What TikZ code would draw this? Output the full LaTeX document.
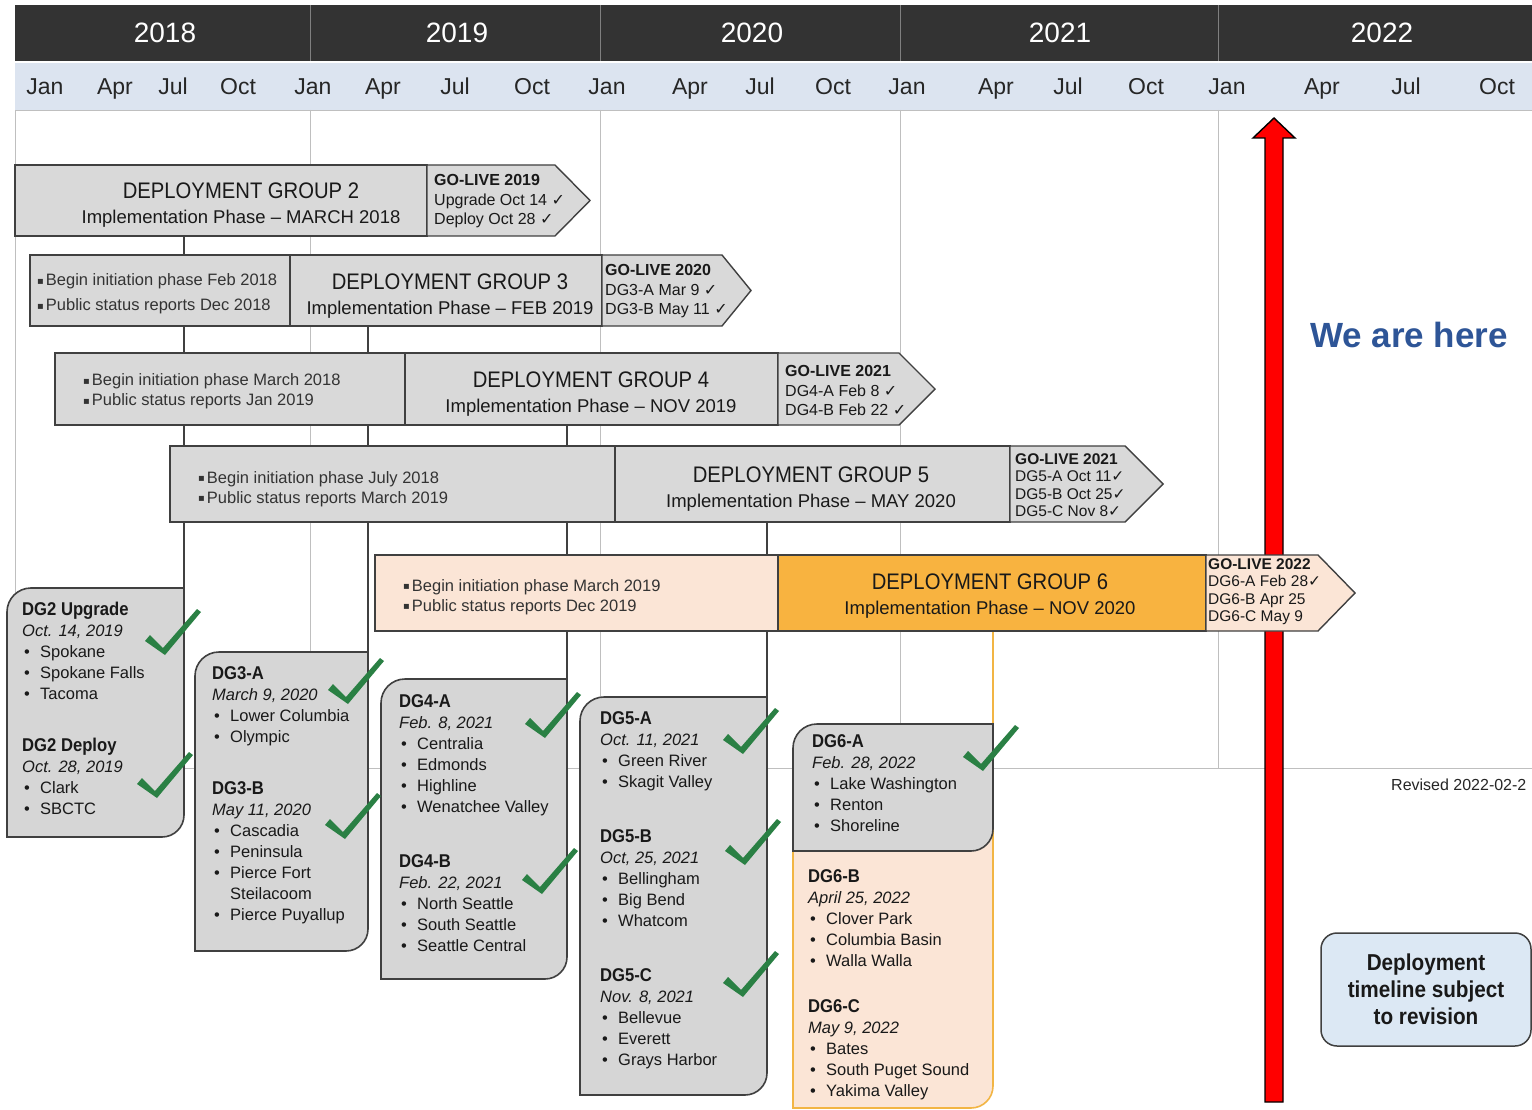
\documentclass[tikz,border=0pt]{standalone}
\usepackage{fontspec}
\setmainfont{Liberation Sans}
\newfontfamily\condfont[FakeStretch=0.9]{Liberation Sans}
\newfontfamily\symfont{DejaVu Sans}

\definecolor{headdark}{HTML}{333333}
\definecolor{monthblue}{HTML}{DCE4F0}
\definecolor{bargray}{HTML}{D9D9D9}
\definecolor{callgray}{HTML}{D6D6D6}
\definecolor{edgegray}{HTML}{404040}
\definecolor{gridgray}{HTML}{BFBFBF}
\definecolor{peach}{HTML}{FBE5D6}
\definecolor{dgorange}{HTML}{F8B340}
\definecolor{orangeline}{HTML}{F2B544}
\definecolor{tickgreen}{HTML}{2A8044}
\definecolor{hereblue}{HTML}{2E5597}
\definecolor{revblue}{HTML}{DCE8F4}

\newcommand\tickok{{\symfont ✓}}
\newcommand\sqbul{\raisebox{1.5pt}{\symfont\fontsize{10}{10}\selectfont ▪}\hspace{2pt}}
\newcommand\bulitem[1]{\makebox[18pt][l]{\hspace{2pt}\textbullet}#1}
\newcommand\dghead[1]{{\condfont\bfseries\fontsize{18.5}{21}\selectfont #1}}
\newcommand\golivebox[6]{%
  \draw[#1] (#2,#3) -- (#4,#3) -- ({#5},{(#3+#6)/2}) -- (#4,#6) -- (#2,#6) -- cycle;}
\newcommand\calloutbox[5]{%
  \draw[#1] (#2,#5) -- (#2,#3+24) arc[start angle=180, end angle=270, radius=24]
    -- (#4,#3) -- (#4,#5-22) arc[start angle=0, end angle=90, radius=22] -- cycle;}

\tikzset{
  barbox/.style={draw=edgegray, line width=1.4pt, fill=bargray, inner sep=0pt},
  peachbox/.style={barbox, fill=peach},
  orangebox/.style={barbox, fill=dgorange},
  callbox/.style={draw=edgegray, line width=1.6pt, fill=callgray},
  peachcall/.style={draw=orangeline, line width=1.6pt, fill=peach},
  conn/.style={draw=edgegray, line width=1.6pt},
  orangeconn/.style={draw=orangeline, line width=1.8pt},
  gridline/.style={draw=gridgray, line width=0.8pt},
  yeardiv/.style={draw=gray, line width=0.8pt},
  yearlbl/.style={text=white, text height=20pt, text depth=0pt, font=\fontsize{28}{30}\selectfont},
  monthlbl/.style={text=black!85, text height=17pt, text depth=5pt, font=\fontsize{23}{26}\selectfont},
  title/.style={align=center, inner sep=0pt, text=black!90, font=\fontsize{18.5}{24.5}\selectfont},
  golive/.style={anchor=west, align=left, inner sep=0pt, text=black!90, font=\fontsize{16}{19.5}\selectfont},
  initnote/.style={anchor=west, align=left, inner sep=0pt, text=black!80, font=\fontsize{16.5}{20}\selectfont},
  calltext/.style={anchor=north west, align=left, inner sep=0pt, text=black!90, font=\fontsize{16.5}{21}\selectfont},
  okmark/.pic={\fill[tickgreen] (-19,-13) -- (-14,-19) -- (-1,-6) -- (33,-45) -- (37,-42) -- (1,1) -- cycle;}
}

\begin{document}
\begin{tikzpicture}[x=1pt,y=-1pt]
  \useasboundingbox (0,0) rectangle (1532,1110);
  \fill[white] (0,0) rectangle (1532,1110);

  % header
  \fill[headdark] (15,5) rectangle (1532,61);
  \fill[monthblue] (15,63) rectangle (1532,110);
  \draw[yeardiv] (310,5) -- (310,61);
  \draw[yeardiv] (600,5) -- (600,61);
  \draw[yeardiv] (900,5) -- (900,61);
  \draw[yeardiv] (1218,5) -- (1218,61);
  \node[yearlbl] (y18) at (165,33) {2018};
  \node[yearlbl] (y19) at (457,33) {2019};
  \node[yearlbl] (y20) at (752,33) {2020};
  \node[yearlbl] (y21) at (1060,33) {2021};
  \node[yearlbl] (y22) at (1382,33) {2022};
  \foreach \mx/\mn [count=\i] in {45/Jan,115/Apr,173/Jul,238/Oct,313/Jan,383/Apr,455/Jul,532/Oct,
      607/Jan,690/Apr,760/Jul,833/Oct,907/Jan,996/Apr,1068/Jul,1146/Oct,1227/Jan,1322/Apr,1406/Jul,1497/Oct}
    \node[monthlbl] (m\i) at (\mx,89) {\mn};

  % grid
  \draw[gridline] (1532,110) -- (15,110) -- (15,768) -- (1532,768);
  \draw[gridline] (310,110) -- (310,768);
  \draw[gridline] (600,110) -- (600,768);
  \draw[gridline] (900,110) -- (900,768);
  \draw[gridline] (1218,110) -- (1218,768);

  % connectors
  \coordinate (dg2foot) at (184,236);
  \coordinate (dg2call) at (184,588);
  \coordinate (dg3foot) at (368,326);
  \coordinate (dg3call) at (368,652);
  \coordinate (dg4foot) at (567,425);
  \coordinate (dg4call) at (567,679);
  \coordinate (dg5foot) at (767,522);
  \coordinate (dg5call) at (767,697);
  \coordinate (dg6foot) at (993,631);
  \coordinate (dg6call) at (993,724);
  \draw[conn] (dg2foot) -- (dg2call);
  \draw[conn] (dg3foot) -- (dg3call);
  \draw[conn] (dg4foot) -- (dg4call);
  \draw[conn] (dg5foot) -- (dg5call);
  \draw[orangeconn] (dg6foot) -- (dg6call);

  % we are here arrow
  \draw[fill=red, line width=1.4pt] (1274,118) -- (1295,138) -- (1283,138) -- (1283,1102)
    -- (1265,1102) -- (1265,138) -- (1253,138) -- cycle;

  % DG2
  \node[barbox, minimum width=412pt, minimum height=71pt] (dg2bar) at (221,200.5) {};
  \golivebox{barbox}{427}{165}{555}{590}{236}
  \node[title] (dg2title) at (241,205) {{\condfont\fontsize{22.5}{24.5}\selectfont DEPLOYMENT GROUP 2}\\Implementation Phase – MARCH 2018};
  \node[golive] (dg2live) at (434,201.5) {\textbf{GO-LIVE 2019}\\Upgrade Oct 14 \tickok\\Deploy Oct 28 \tickok};

  % DG3
  \node[barbox, minimum width=260pt, minimum height=71pt] (dg3init) at (160,290.5) {};
  \node[barbox, minimum width=312pt, minimum height=71pt] (dg3bar) at (446,290.5) {};
  \golivebox{barbox}{602}{255}{722}{751}{326}
  \node[initnote, font=\fontsize{16.5}{25}\selectfont] (dg3note) at (37,294) {\sqbul Begin initiation phase Feb 2018\\\sqbul Public status reports Dec 2018};
  \node[title] (dg3title) at (450,296) {{\condfont\fontsize{22.5}{24.5}\selectfont DEPLOYMENT GROUP 3}\\Implementation Phase – FEB 2019};
  \node[golive] (dg3live) at (605,291.5) {\textbf{GO-LIVE 2020}\\DG3-A Mar 9 \tickok\\DG3-B May 11 \tickok};

  % DG4
  \node[barbox, minimum width=350pt, minimum height=72pt] (dg4init) at (230,389) {};
  \node[barbox, minimum width=373pt, minimum height=72pt] (dg4bar) at (591.5,389) {};
  \golivebox{barbox}{778}{353}{899}{935}{425}
  \node[initnote] (dg4note) at (83,391.5) {\sqbul Begin initiation phase March 2018\\\sqbul Public status reports Jan 2019};
  \node[title] (dg4title) at (591,394) {{\condfont\fontsize{22.5}{24.5}\selectfont DEPLOYMENT GROUP 4}\\Implementation Phase – NOV 2019};
  \node[golive] (dg4live) at (785,390.5) {\textbf{GO-LIVE 2021}\\DG4-A Feb 8 \tickok\\DG4-B Feb 22 \tickok};

  % DG5
  \node[barbox, minimum width=445pt, minimum height=76pt] (dg5init) at (392.5,484) {};
  \node[barbox, minimum width=395pt, minimum height=76pt] (dg5bar) at (812.5,484) {};
  \golivebox{barbox}{1010}{446}{1125}{1163}{522}
  \node[initnote] (dg5note) at (198,489) {\sqbul Begin initiation phase July 2018\\\sqbul Public status reports March 2019};
  \node[title] (dg5title) at (811,489) {{\condfont\fontsize{22.5}{24.5}\selectfont DEPLOYMENT GROUP 5}\\Implementation Phase – MAY 2020};
  \node[golive, font=\fontsize{15.5}{17.5}\selectfont] (dg5live) at (1015,485) {\textbf{GO-LIVE 2021}\\DG5-A Oct 11\tickok\\DG5-B Oct 25\tickok\\DG5-C Nov 8\tickok};

  % DG6
  \node[peachbox, minimum width=403pt, minimum height=76pt] (dg6init) at (576.5,593) {};
  \node[orangebox, minimum width=428pt, minimum height=76pt] (dg6bar) at (992,593) {};
  \golivebox{peachbox}{1206}{555}{1318}{1355}{631}
  \node[initnote] (dg6note) at (403,597) {\sqbul Begin initiation phase March 2019\\\sqbul Public status reports Dec 2019};
  \node[title] (dg6title) at (990,596) {{\condfont\fontsize{22.5}{24.5}\selectfont DEPLOYMENT GROUP 6}\\Implementation Phase – NOV 2020};
  \node[golive, font=\fontsize{15.5}{17.5}\selectfont] (dg6live) at (1208,591.5) {\textbf{GO-LIVE 2022}\\DG6-A Feb 28\tickok\\DG6-B Apr 25\\DG6-C May 9};

  % go-live callouts
  \calloutbox{callbox}{7}{588}{184}{837}
  \node[calltext] (dg2list) at (22,602) {\dghead{DG2 Upgrade}\\\textit{Oct. 14, 2019}\\\bulitem{Spokane}\\\bulitem{Spokane Falls}\\\bulitem{Tacoma}\\[31pt]
    \dghead{DG2 Deploy}\\\textit{Oct. 28, 2019}\\\bulitem{Clark}\\\bulitem{SBCTC}};

  \calloutbox{callbox}{195}{652}{368}{951}
  \node[calltext] (dg3list) at (212,666) {\dghead{DG3-A}\\\textit{March 9, 2020}\\\bulitem{Lower Columbia}\\\bulitem{Olympic}\\[31pt]
    \dghead{DG3-B}\\\textit{May 11, 2020}\\\bulitem{Cascadia}\\\bulitem{Peninsula}\\\bulitem{Pierce Fort}\\\hspace*{18pt}Steilacoom\\\bulitem{Pierce Puyallup}};

  \calloutbox{callbox}{381}{679}{567}{979}
  \node[calltext] (dg4list) at (399,694) {\dghead{DG4-A}\\\textit{Feb. 8, 2021}\\\bulitem{Centralia}\\\bulitem{Edmonds}\\\bulitem{Highline}\\\bulitem{Wenatchee Valley}\\[34pt]
    \dghead{DG4-B}\\\textit{Feb. 22, 2021}\\\bulitem{North Seattle}\\\bulitem{South Seattle}\\\bulitem{Seattle Central}};

  \calloutbox{callbox}{580}{697}{767}{1095}
  \node[calltext] (dg5list) at (600,711) {\dghead{DG5-A}\\\textit{Oct. 11, 2021}\\\bulitem{Green River}\\\bulitem{Skagit Valley}\\[34pt]
    \dghead{DG5-B}\\\textit{Oct, 25, 2021}\\\bulitem{Bellingham}\\\bulitem{Big Bend}\\\bulitem{Whatcom}\\[34pt]
    \dghead{DG5-C}\\\textit{Nov. 8, 2021}\\\bulitem{Bellevue}\\\bulitem{Everett}\\\bulitem{Grays Harbor}};

  \calloutbox{peachcall}{793}{790}{993}{1108}
  \calloutbox{callbox}{793}{724}{993}{851}
  \node[calltext] (dg6alist) at (812,734) {\dghead{DG6-A}\\\textit{Feb. 28, 2022}\\\bulitem{Lake Washington}\\\bulitem{Renton}\\\bulitem{Shoreline}};
  \node[calltext] (dg6blist) at (808,869) {\dghead{DG6-B}\\\textit{April 25, 2022}\\\bulitem{Clover Park}\\\bulitem{Columbia Basin}\\\bulitem{Walla Walla}\\[25pt]
    \dghead{DG6-C}\\\textit{May 9, 2022}\\\bulitem{Bates}\\\bulitem{South Puget Sound}\\\bulitem{Yakima Valley}};

  % check marks
  \pic at (164,654) {okmark};
  \pic at (156,797) {okmark};
  \pic at (347,703) {okmark};
  \pic at (344,838) {okmark};
  \pic at (544,737) {okmark};
  \pic at (541,893) {okmark};
  \pic at (742,753) {okmark};
  \pic at (744,864) {okmark};
  \pic at (742,996) {okmark};
  \pic at (982,770) {okmark};

  % notes
  \node[text=hereblue, font=\bfseries\fontsize{35}{40}\selectfont] (here) at (1409,335) {We are here};
  \node[anchor=west, inner sep=0pt, text=black!85, font=\fontsize{16}{19}\selectfont] (revised) at (1391,785) {Revised 2022-02-2};
  \node[draw=edgegray, line width=1.5pt, fill=revblue, rounded corners=16pt, minimum width=210pt, minimum height=113pt,
    align=center, text=black!90, font=\condfont\bfseries\fontsize{23}{27}\selectfont] (revbox) at (1426,989.5) {Deployment\\timeline subject\\to revision};
\end{tikzpicture}
\end{document}
